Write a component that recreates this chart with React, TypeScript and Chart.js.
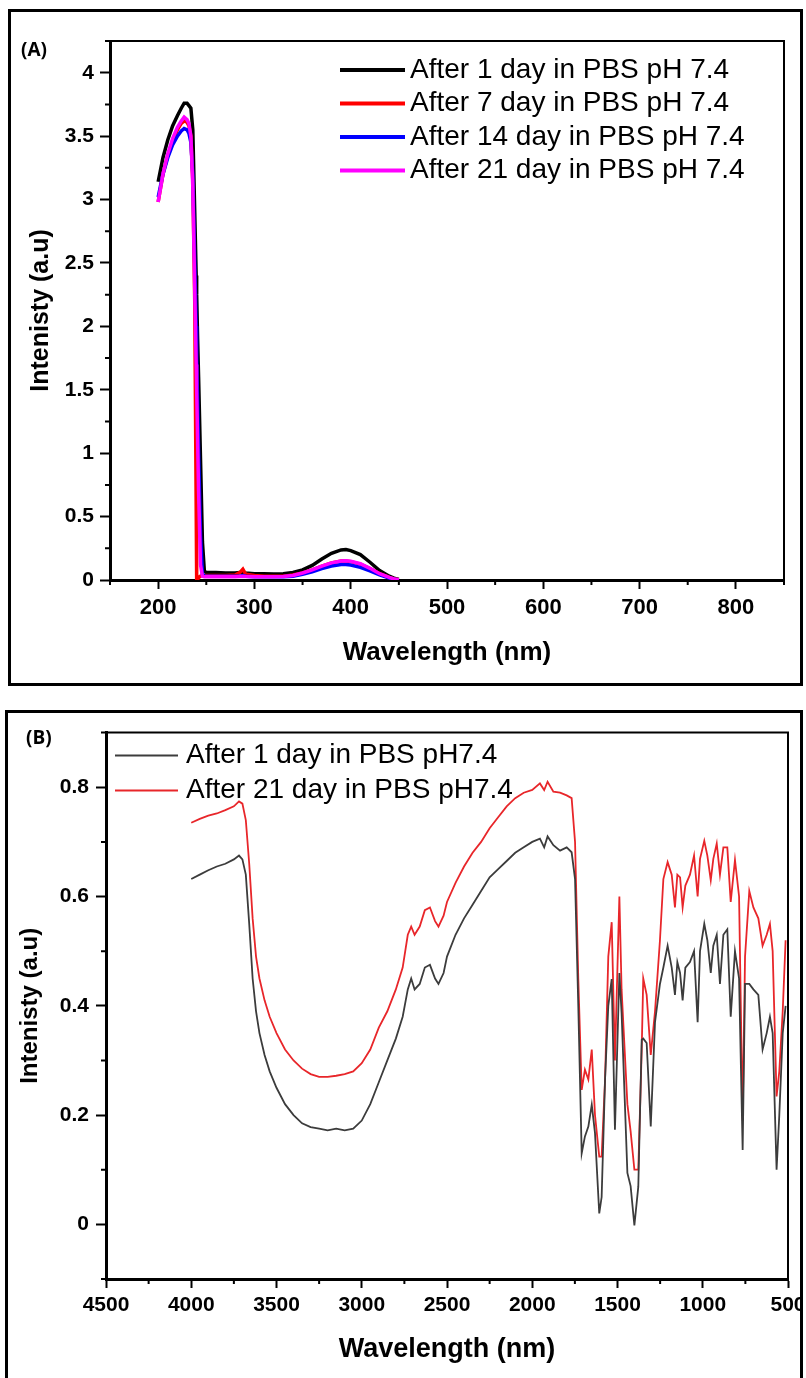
import React, { useEffect, useRef } from 'react';
import { Chart, registerables } from 'chart.js';
Chart.register(...registerables);

// ---------- Panel A data ----------
const waveA = [200,205,210,215,220,224,227,230,232,234,236,238,239.5,240,241,242,244,246,248,250,260,270,280,285,288,291,300,310,320,330,340,350,360,370,380,390,395,400,410,420,430,440,445,450];
const day1A = [3.14,3.33,3.47,3.58,3.66,3.72,3.76,3.76,3.74,3.72,3.55,2.9,2.4,2.25,1.9,1.6,0.95,0.3,0.07,0.06,0.06,0.055,0.055,0.06,0.06,0.055,0.05,0.05,0.048,0.05,0.06,0.08,0.115,0.165,0.21,0.237,0.24,0.232,0.2,0.14,0.075,0.03,0.015,0.005];
const day7A = [2.98,3.2,3.35,3.46,3.55,3.6,3.62,3.61,3.58,3.5,3.15,2.2,0.6,0,0,0.02,0.03,0.035,0.035,0.035,0.035,0.035,0.04,0.06,0.085,0.045,0.035,0.03,0.03,0.03,0.04,0.055,0.08,0.11,0.135,0.15,0.15,0.145,0.125,0.09,0.05,0.02,0.008,0.002];
const day14A = [3.02,3.2,3.33,3.43,3.5,3.54,3.56,3.55,3.52,3.45,3.2,2.5,2.0,1.75,1.4,1.0,0.35,0.05,0.03,0.03,0.03,0.03,0.03,0.03,0.035,0.03,0.025,0.025,0.025,0.025,0.03,0.045,0.065,0.09,0.11,0.122,0.123,0.118,0.1,0.072,0.04,0.015,0.006,0.001];
const day21A = [2.98,3.2,3.36,3.48,3.57,3.62,3.65,3.63,3.6,3.5,3.1,2.3,1.7,1.5,1.1,0.7,0.12,0.03,0.025,0.025,0.025,0.025,0.025,0.028,0.03,0.028,0.025,0.025,0.025,0.028,0.035,0.055,0.08,0.11,0.135,0.15,0.152,0.148,0.128,0.092,0.05,0.02,0.008,0.002];
const labelsA = ['After 1 day in PBS pH 7.4','After 7 day in PBS pH 7.4','After 14 day in PBS pH 7.4','After 21 day in PBS pH 7.4'];
const colorsA = ['#000000','#ff0000','#0000ff','#ff00ff'];
const xTicksA = [200,300,400,500,600,700,800];
const xMinorA = [150,250,350,450,550,650,750,850];
const yTicksA = [0,0.5,1,1.5,2,2.5,3,3.5,4];
const yMinorA = [0.25,0.75,1.25,1.75,2.25,2.75,3.25,3.75,4.25];

// ---------- Panel B data ----------
const waveB = [4000,3950,3900,3850,3800,3750,3720,3700,3680,3660,3640,3620,3600,3570,3540,3500,3450,3400,3350,3300,3250,3200,3150,3100,3050,3000,2950,2900,2850,2800,2760,2730,2710,2690,2660,2630,2600,2570,2550,2520,2500,2450,2400,2350,2300,2250,2200,2150,2100,2050,2000,1955,1930,1910,1876,1837,1798,1769,1749,1730,1710,1691,1671,1651,1632,1607,1593,1573,1554,1534,1515,1489,1476,1442,1423,1401,1378,1358,1349,1329,1305,1280,1251,1231,1206,1182,1163,1149,1133,1118,1102,1075,1051,1030,1016,991,973,953,938,918,899,879,856,836,811,787,766,752,727,703,674,649,625,606,590,567,551,531,514];
const day1B = [0.632,0.64,0.648,0.655,0.66,0.668,0.675,0.668,0.64,0.55,0.45,0.39,0.35,0.31,0.28,0.25,0.22,0.2,0.185,0.178,0.175,0.172,0.175,0.172,0.175,0.19,0.22,0.26,0.3,0.34,0.38,0.43,0.45,0.43,0.44,0.47,0.475,0.45,0.44,0.46,0.49,0.53,0.56,0.585,0.61,0.635,0.65,0.665,0.68,0.69,0.7,0.706,0.69,0.71,0.694,0.684,0.69,0.681,0.632,0.4,0.13,0.161,0.179,0.219,0.167,0.02,0.05,0.265,0.4,0.449,0.173,0.46,0.387,0.094,0.07,-0.002,0.069,0.338,0.34,0.332,0.179,0.37,0.44,0.47,0.51,0.47,0.42,0.48,0.46,0.41,0.47,0.48,0.5,0.37,0.5,0.55,0.52,0.46,0.51,0.53,0.44,0.53,0.54,0.38,0.5,0.45,0.136,0.44,0.44,0.43,0.42,0.32,0.35,0.38,0.35,0.1,0.2,0.35,0.4];
const day21B = [0.735,0.742,0.748,0.752,0.758,0.765,0.774,0.77,0.74,0.66,0.56,0.49,0.45,0.41,0.38,0.35,0.32,0.3,0.285,0.275,0.27,0.27,0.272,0.275,0.28,0.295,0.32,0.36,0.39,0.43,0.47,0.53,0.545,0.53,0.545,0.575,0.58,0.555,0.545,0.565,0.59,0.625,0.655,0.68,0.7,0.725,0.745,0.765,0.78,0.79,0.795,0.807,0.795,0.81,0.792,0.79,0.785,0.78,0.7,0.45,0.246,0.283,0.265,0.32,0.2,0.124,0.124,0.265,0.49,0.553,0.3,0.6,0.43,0.22,0.17,0.1,0.1,0.32,0.45,0.42,0.31,0.39,0.52,0.632,0.663,0.64,0.58,0.64,0.635,0.58,0.62,0.64,0.675,0.6,0.669,0.702,0.675,0.63,0.669,0.697,0.64,0.69,0.69,0.59,0.667,0.6,0.19,0.49,0.61,0.58,0.56,0.51,0.53,0.55,0.5,0.234,0.28,0.39,0.52];
const labelsB = ['After 1 day in PBS pH7.4','After 21 day in PBS pH7.4'];
const colorsB = ['#3c3c3c','#e8262a'];
const xTicksB = [500,1000,1500,2000,2500,3000,3500,4000,4500];
const xMinorB = [750,1250,1750,2250,2750,3250,3750,4250];
const yTicksB = [0,0.2,0.4,0.6,0.8];
const yMinorB = [-0.1,0.1,0.3,0.5,0.7,0.9];

const FONT = '"Liberation Sans", Arial, Helvetica, sans-serif';

type Decor = {
  xMinor: number[]; yMinor: number[]; minorLen: number; tickWidth: number; frameWidth: number;
  legendFont: string; legendTop: number; legendGap: number; lx0: number; lx1: number; tx: number; legendLineWidth: number;
};

function decorPlugin(o: Decor) {
  return {
    id: 'decor',
    afterDraw(chart: any) {
      const { ctx, chartArea: ca, scales } = chart;
      const x = scales.x, y = scales.y;
      ctx.save();
      ctx.strokeStyle = '#000';
      ctx.lineWidth = o.frameWidth;
      ctx.beginPath();
      ctx.moveTo(ca.left, ca.top);
      ctx.lineTo(ca.right, ca.top);
      ctx.lineTo(ca.right, ca.bottom);
      ctx.stroke();
      ctx.lineWidth = o.tickWidth;
      ctx.beginPath();
      for (const v of o.xMinor) {
        const px = x.getPixelForValue(v);
        ctx.moveTo(px, ca.bottom);
        ctx.lineTo(px, ca.bottom + o.minorLen);
      }
      for (const v of o.yMinor) {
        const py = y.getPixelForValue(v);
        ctx.moveTo(ca.left, py);
        ctx.lineTo(ca.left - o.minorLen, py);
      }
      ctx.stroke();
      ctx.font = o.legendFont;
      ctx.textBaseline = 'middle';
      ctx.textAlign = 'left';
      ctx.fillStyle = '#000';
      chart.data.datasets.forEach((ds: any, i: number) => {
        const yy = ca.top + o.legendTop + i * o.legendGap;
        ctx.strokeStyle = ds.borderColor;
        ctx.lineWidth = o.legendLineWidth;
        ctx.beginPath();
        ctx.moveTo(ca.left + o.lx0, yy);
        ctx.lineTo(ca.left + o.lx1, yy);
        ctx.stroke();
        ctx.fillText(ds.label, ca.left + o.tx, yy);
      });
      ctx.restore();
    },
  };
}

function pts(xs: number[], ys: number[]) {
  return xs.map((x, i) => ({ x, y: ys[i] }));
}

function axisCommon(tickLen: number) {
  return {
    border: { display: true, color: '#000', width: 3 },
    grid: { display: true, drawOnChartArea: false, drawTicks: true, tickLength: tickLen, tickWidth: 2, tickColor: '#000' },
  };
}

function PanelA() {
  const ref = useRef<HTMLCanvasElement>(null);
  useEffect(() => {
    const series = [day1A, day7A, day14A, day21A];
    const chart = new Chart(ref.current!, {
      type: 'line',
      data: {
        datasets: series.map((s, i) => ({
          label: labelsA[i],
          data: pts(waveA, s),
          borderColor: colorsA[i],
          backgroundColor: colorsA[i],
          borderWidth: 3.5,
          pointRadius: 0,
          tension: 0,
          order: 4 - i,
        })),
      },
      options: {
        animation: false,
        responsive: false,
        events: [],
        layout: { padding: { left: 0, top: 31, right: 19, bottom: 0 } },
        plugins: { legend: { display: false }, tooltip: { enabled: false } },
        scales: {
          x: {
            type: 'linear', min: 150, max: 850,
            ...axisCommon(9),
            afterBuildTicks: (s: any) => { s.ticks = xTicksA.map((v) => ({ value: v })); },
            afterFit: (s: any) => { s.height = 105; },
            ticks: { color: '#000', padding: 6, maxRotation: 0, autoSkip: false, font: { family: FONT, size: 22, weight: 'bold' }, callback: (v: any) => String(v) },
            title: { display: true, text: 'Wavelength (nm)', color: '#000', font: { family: FONT, size: 26, weight: 'bold' }, padding: { top: 0, bottom: 17 } },
          },
          y: {
            type: 'linear', min: 0, max: 4.25,
            ...axisCommon(10),
            afterBuildTicks: (s: any) => { s.ticks = yTicksA.map((v) => ({ value: v })); },
            afterFit: (s: any) => { s.width = 102; },
            ticks: { color: '#000', padding: 6, font: { family: FONT, size: 21, weight: 'bold' }, callback: (v: any) => String(v) },
            title: { display: true, text: 'Intenisty (a.u)', color: '#000', font: { family: FONT, size: 25, weight: 'bold' }, padding: { top: 18, bottom: 0 } },
          },
        },
      } as any,
      plugins: [decorPlugin({
        xMinor: xMinorA, yMinor: yMinorA, minorLen: 5, tickWidth: 2, frameWidth: 2,
        legendFont: `28px ${FONT}`, legendTop: 29, legendGap: 33.5, lx0: 230, lx1: 295, tx: 300, legendLineWidth: 4,
      })],
    });
    return () => chart.destroy();
  }, []);
  return <canvas ref={ref} width={795} height={675} style={{ position: 'absolute', left: 8, top: 10, width: 795, height: 675 }} />;
}

function PanelB() {
  const ref = useRef<HTMLCanvasElement>(null);
  useEffect(() => {
    const series = [day1B, day21B];
    const chart = new Chart(ref.current!, {
      type: 'line',
      data: {
        datasets: series.map((s, i) => ({
          label: labelsB[i],
          data: pts(waveB, s),
          borderColor: colorsB[i],
          backgroundColor: colorsB[i],
          borderWidth: 1.8,
          pointRadius: 0,
          tension: 0,
        })),
      },
      options: {
        animation: false,
        responsive: false,
        events: [],
        layout: { padding: { left: 0, top: 19, right: 15, bottom: 0 } },
        plugins: { legend: { display: false }, tooltip: { enabled: false } },
        scales: {
          x: {
            type: 'linear', min: 500, max: 4500, reverse: true,
            ...axisCommon(9),
            afterBuildTicks: (s: any) => { s.ticks = xTicksB.map((v) => ({ value: v })); },
            afterFit: (s: any) => { s.height = 99; },
            ticks: { color: '#000', padding: 5, maxRotation: 0, autoSkip: false, font: { family: FONT, size: 21, weight: 'bold' }, callback: (v: any) => String(v) },
            title: { display: true, text: 'Wavelength (nm)', color: '#000', font: { family: FONT, size: 27, weight: 'bold' }, padding: { top: 0, bottom: 12 } },
          },
          y: {
            type: 'linear', min: -0.1, max: 0.9,
            ...axisCommon(10),
            afterBuildTicks: (s: any) => { s.ticks = yTicksB.map((v) => ({ value: v })); },
            afterFit: (s: any) => { s.width = 98; },
            ticks: { color: '#000', padding: 7, font: { family: FONT, size: 21, weight: 'bold' }, callback: (v: any) => String(v) },
            title: { display: true, text: 'Intenisty (a.u)', color: '#000', font: { family: FONT, size: 24, weight: 'bold' }, padding: { top: 8, bottom: 0 } },
          },
        },
      } as any,
      plugins: [decorPlugin({
        xMinor: xMinorB, yMinor: yMinorB, minorLen: 5, tickWidth: 2, frameWidth: 2,
        legendFont: `28px ${FONT}`, legendTop: 23, legendGap: 35, lx0: 9, lx1: 72, tx: 80, legendLineWidth: 2,
      })],
    });
    return () => chart.destroy();
  }, []);
  return <canvas ref={ref} width={795} height={665} style={{ position: 'absolute', left: 8, top: 713, width: 795, height: 665 }} />;
}

export default function App() {
  const labelStyle: React.CSSProperties = {
    position: 'absolute', fontFamily: '"Open Sans", "Liberation Sans", sans-serif', fontWeight: 700, fontSize: 19, color: '#000', lineHeight: '20px',
  };
  return (
    <div style={{ position: 'absolute', left: 0, top: 0, width: 806, height: 1378, background: '#fff', overflow: 'hidden' }}>
      <div style={{ position: 'absolute', left: 8, top: 9, width: 795, height: 677, border: '3px solid #000', boxSizing: 'border-box' }} />
      <div style={{ position: 'absolute', left: 5, top: 710, width: 798, height: 700, borderLeft: '3px solid #000', borderTop: '3px solid #000', borderRight: '3px solid #000', boxSizing: 'border-box' }} />
      <PanelA />
      <PanelB />
      <div style={{ ...labelStyle, left: 21, top: 39 }}>(A)</div>
      <div style={{ ...labelStyle, left: 26, top: 727 }}>(B)</div>
    </div>
  );
}
